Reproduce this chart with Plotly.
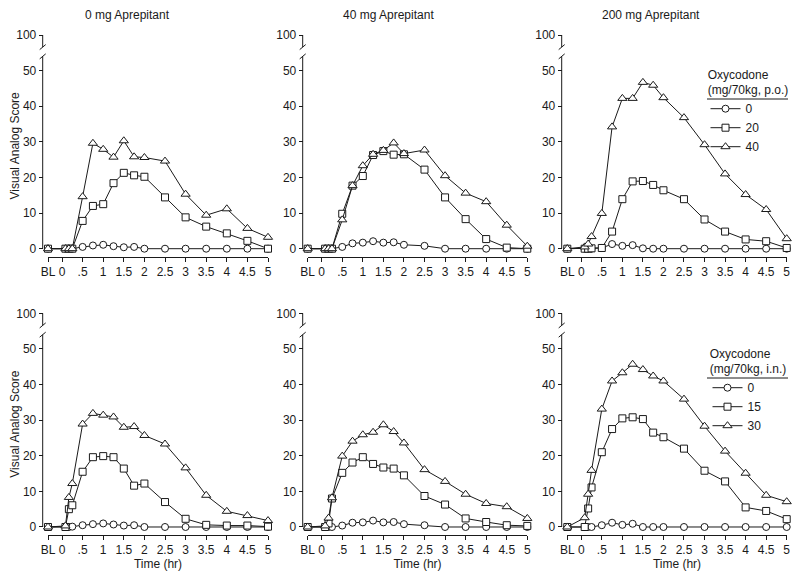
import plotly.graph_objects as go

# ---------------- data ----------------
BL = -0.34  # display position of baseline
times = [BL, 0.083, 0.167, 0.25, 0.5, 0.75, 1, 1.25, 1.5, 1.75, 2, 2.5, 3, 3.5, 4, 4.5, 5]
x_tick_vals = [BL, 0, 0.5, 1, 1.5, 2, 2.5, 3, 3.5, 4, 4.5, 5]
x_tick_text = ["BL", "0", ".5", "1", "1.5", "2", "2.5", "3", "3.5", "4", "4.5", "5"]
y_tick_vals = [0, 10, 20, 30, 40, 50, 60]          # 60 = display position of 100 (broken axis)
y_tick_text = ["0", "10", "20", "30", "40", "50", "100"]

aprepitant_titles = ["0 mg Aprepitant", "40 mg Aprepitant", "200 mg Aprepitant"]

# Row 1: oxycodone p.o. (0, 20, 40 mg/70kg)
po_doses = ["0", "20", "40"]
po_apr0_oxy0 = [0, 0, 0, 0, 0.5, 0.9, 1.1, 0.7, 0.4, 0.5, 0, 0, 0, 0, 0, 0, 0]
po_apr0_oxy20 = [0, 0, 0, 0, 7.8, 12.0, 12.5, 18.4, 21.3, 20.6, 20.2, 14.4, 8.8, 6.2, 4.3, 2.2, 0]
po_apr0_oxy40 = [0, 0, 0, 0, 14.6, 29.6, 27.9, 25.7, 30.3, 25.8, 25.6, 24.6, 15.3, 9.4, 11.2, 5.7, 3.2]
po_apr40_oxy0 = [0, 0, 0, 0, 0.5, 1.5, 1.7, 2.1, 1.7, 1.8, 1.1, 0.8, 0, 0, 0, 0, 0]
po_apr40_oxy20 = [0, 0, 0, 0, 9.8, 17.7, 20.4, 26.3, 27.4, 26.4, 26.5, 22.2, 14.4, 8.3, 2.7, 0.3, 0]
po_apr40_oxy40 = [0, 0, 0, 0, 8.1, 17.7, 23.3, 26.5, 27.6, 29.7, 26.7, 27.7, 20.5, 15.6, 13.2, 6.6, 0.7]
po_apr200_oxy0 = [0, 0, 0, 0, 0.2, 1.3, 0.8, 1.0, 0.1, 0, 0, 0, 0, 0, 0, 0, 0]
po_apr200_oxy20 = [0, 0, 0, 0.1, 0.2, 4.8, 13.9, 18.9, 19.0, 17.9, 16.4, 13.9, 8.2, 4.8, 2.6, 2.1, 0.2]
po_apr200_oxy40 = [0, 0.5, 1.3, 3.4, 9.9, 34.2, 42.2, 42.2, 46.7, 45.9, 42.4, 36.8, 29.2, 21.0, 15.2, 11.0, 2.8]

# Row 2: oxycodone i.n. (0, 15, 30 mg/70kg)
in_doses = ["0", "15", "30"]
in_apr0_oxy0 = [0, 0, 0, 0.1, 0.5, 0.8, 1.0, 0.7, 0.4, 0.5, 0, 0, 0, 0, 0, 0, 0]
in_apr0_oxy15 = [0, 0, 5.0, 6.1, 15.5, 19.6, 19.9, 19.6, 16.4, 11.6, 12.2, 7.0, 2.3, 0.6, 0.4, 0.4, 0.1]
in_apr0_oxy30 = [0, 0.3, 8.3, 12.2, 28.9, 31.9, 31.4, 30.9, 28.0, 28.2, 25.7, 23.3, 16.6, 8.9, 4.4, 3.2, 1.8]
in_apr40_oxy0 = [0, 0, 0, 0, 0.4, 1.2, 1.3, 1.8, 1.3, 1.4, 0.8, 0.5, 0, 0, 0, 0, 0]
in_apr40_oxy15 = [0, 0, 1.0, 8.0, 15.2, 18.1, 19.6, 17.7, 16.7, 16.4, 14.5, 8.7, 6.3, 2.4, 1.4, 0.5, 0.3]
in_apr40_oxy30 = [0, 0.3, 2.5, 8.2, 19.9, 24.1, 25.9, 26.6, 28.7, 26.8, 23.6, 16.1, 12.8, 9.2, 6.6, 5.7, 2.4]
in_apr200_oxy0 = [0, 0, 0, 0, 0.5, 1.2, 0.6, 0.9, 0, 0, 0, 0, 0, 0, 0, 0, 0]
in_apr200_oxy15 = [0, 0, 5.2, 11.1, 21.0, 27.5, 30.5, 30.8, 30.3, 26.5, 25.2, 22.0, 15.8, 12.8, 5.5, 4.5, 2.2]
in_apr200_oxy30 = [0, 2.6, 9.2, 15.9, 33.1, 41.0, 43.3, 45.7, 44.2, 42.4, 41.0, 35.9, 28.3, 21.3, 15.1, 8.9, 7.1]

panels = [
    [po_apr0_oxy0, po_apr0_oxy20, po_apr0_oxy40],
    [po_apr40_oxy0, po_apr40_oxy20, po_apr40_oxy40],
    [po_apr200_oxy0, po_apr200_oxy20, po_apr200_oxy40],
    [in_apr0_oxy0, in_apr0_oxy15, in_apr0_oxy30],
    [in_apr40_oxy0, in_apr40_oxy15, in_apr40_oxy30],
    [in_apr200_oxy0, in_apr200_oxy15, in_apr200_oxy30],
]

# ---------------- layout geometry ----------------
OFF = 8                      # page body margin in the browser
W, H = 800 - OFF, 578 - OFF  # figure size so that it fits the window
FONT = "Liberation Sans, Arial, sans-serif"
INK = "#1a1a1a"
Y_RANGE = [-2.25, 60.0]
LOWER_TOP = 54.0     # top of lower axis segment
UPPER_BOT = 56.6     # bottom of upper axis segment

# geometry in screen pixels (window coordinates)
col_x = [(48, 268), (307.7, 527.3), (567.3, 786.7)]   # pixel span BL..5
col_yaxis_px = [42.7, 302.7, 561.7]
row_y = [(256.7, 35.0), (535.0, 313.3)]                # pixel bottom (x-axis), top (100 tick)

symbols = ["circle", "square", "triangle-up"]
sizes = [7, 7, 8]

fig = go.Figure()
shapes = []
annotations = []


def sx(pix):
    return (pix - OFF) / W


def sy(pix):
    return 1 - (pix - OFF) / H


for p in range(6):
    r, c = divmod(p, 3)
    n = p + 1
    xa = "x" if n == 1 else f"x{n}"
    ya = "y" if n == 1 else f"y{n}"
    xkey = "xaxis" if n == 1 else f"xaxis{n}"
    ykey = "yaxis" if n == 1 else f"yaxis{n}"
    xd = [sx(col_x[c][0]), sx(col_x[c][1])]
    yd = [sy(row_y[r][0]), sy(row_y[r][1])]
    ypos = sx(col_yaxis_px[c])

    fig.layout[xkey] = dict(
        domain=xd, anchor=ya, range=[BL, 5], showgrid=False, zeroline=False,
        showline=True, linecolor=INK, linewidth=1, automargin=False,
        ticks="outside", ticklen=4, tickcolor=INK, tickwidth=1,
        tickmode="array", tickvals=x_tick_vals, ticktext=x_tick_text,
        tickfont=dict(family=FONT, size=12, color=INK),
        title=dict(text="Time (hr)" if r == 1 else "", font=dict(family=FONT, size=12, color=INK),
                   standoff=0),
    )
    fig.layout[ykey] = dict(
        domain=yd, anchor="free", position=ypos, range=Y_RANGE, showgrid=False, zeroline=False,
        showline=False, automargin=False,
        ticks="outside", ticklen=4, tickcolor=INK, tickwidth=1,
        tickmode="array", tickvals=y_tick_vals, ticktext=y_tick_text,
        tickfont=dict(family=FONT, size=12, color=INK),
        title=dict(text="Visual Analog Score" if c == 0 else "",
                   font=dict(family=FONT, size=12, color=INK), standoff=10),
    )

    # broken y-axis line
    def yp(v, yd=yd):
        return yd[0] + (v - Y_RANGE[0]) / (Y_RANGE[1] - Y_RANGE[0]) * (yd[1] - yd[0])

    lw = dict(color=INK, width=1)
    shapes.append(dict(type="line", xref="paper", yref="paper", x0=ypos, x1=ypos,
                       y0=yp(0), y1=yp(LOWER_TOP), line=lw))
    shapes.append(dict(type="line", xref="paper", yref="paper", x0=ypos, x1=ypos,
                       y0=yp(UPPER_BOT), y1=yp(Y_RANGE[1]), line=lw))
    dx = 3 / W
    for base in (LOWER_TOP, UPPER_BOT):
        shapes.append(dict(type="line", xref="paper", yref="paper",
                           x0=ypos - dx, x1=ypos + dx,
                           y0=yp(base) - 2.5 / H, y1=yp(base) + 2.5 / H, line=lw))

    doses = po_doses if r == 0 else in_doses
    for k, series in enumerate(panels[p]):
        fig.add_trace(go.Scatter(
            x=times, y=series, xaxis=xa, yaxis=ya, mode="lines+markers",
            name=doses[k],
            line=dict(color=INK, width=1),
            marker=dict(symbol=symbols[k], size=sizes[k], color="white",
                        line=dict(color=INK, width=1)),
            cliponaxis=False,
            showlegend=(c == 2),
            legend="legend" if r == 0 else "legend2",
        ))

# column titles
title_x = [127, 388, 651]
for c in range(3):
    annotations.append(dict(text=aprepitant_titles[c], x=sx(title_x[c]), y=sy(15),
                            xref="paper", yref="paper", showarrow=False,
                            xanchor="center", yanchor="middle",
                            font=dict(family=FONT, size=12, color=INK)))

# legend underlines
shapes.append(dict(type="line", xref="paper", yref="paper", x0=sx(707), x1=sx(788),
                   y0=sy(99), y1=sy(99), line=dict(color=INK, width=1)))
shapes.append(dict(type="line", xref="paper", yref="paper", x0=sx(707), x1=sx(788),
                   y0=sy(378), y1=sy(378), line=dict(color=INK, width=1)))

leg_common = dict(xanchor="center", yanchor="top", bgcolor="rgba(0,0,0,0)",
                  font=dict(family=FONT, size=12, color=INK), itemwidth=30,
                  tracegroupgap=0)
fig.update_layout(
    template="none",
    width=W, height=H, margin=dict(l=0, r=0, t=0, b=0, autoexpand=False),
    paper_bgcolor="white", plot_bgcolor="white",
    shapes=shapes, annotations=annotations,
    legend=dict(x=sx(748), y=sy(63), title=dict(text="Oxycodone<br>(mg/70kg, p.o.)", side="top center",
                font=dict(family=FONT, size=12, color=INK)), **leg_common),
    legend2=dict(x=sx(748), y=sy(342), title=dict(text="Oxycodone<br>(mg/70kg, i.n.)", side="top center",
                 font=dict(family=FONT, size=12, color=INK)), **leg_common),
)

fig.write_html("out.html")
